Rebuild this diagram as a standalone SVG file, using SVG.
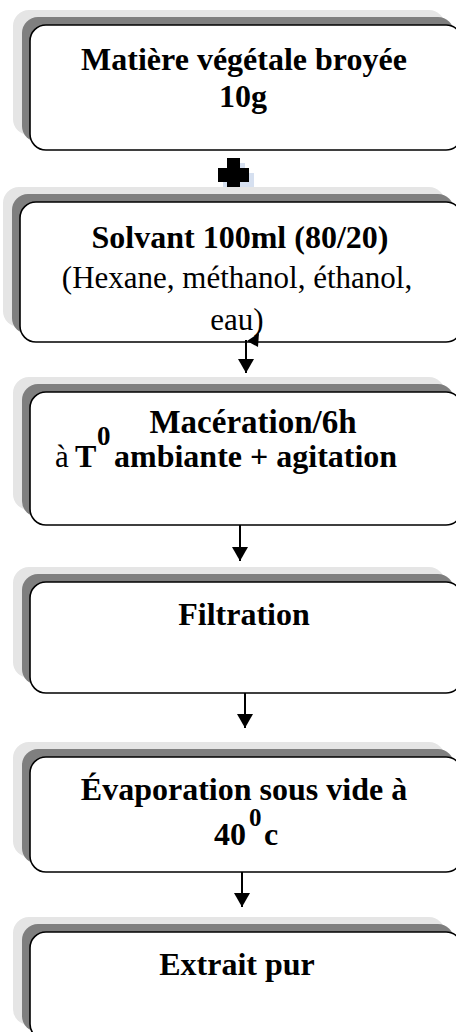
<svg xmlns="http://www.w3.org/2000/svg" width="456" height="1032" viewBox="0 0 456 1032">
<defs>
<style>
.l{fill:#e5e5e5}
.d{fill:#7f7f7f}
.w{fill:#fff;stroke:#000;stroke-width:1.6}
text{font-family:"Liberation Serif","Times New Roman",serif;fill:#000}
.b{font-weight:bold;font-size:32px}
.r{font-weight:normal;font-size:31px}
.c{text-anchor:middle}
.con{stroke:#000;stroke-width:2;fill:none}
</style>
<marker id="ah" markerUnits="userSpaceOnUse" viewBox="0 -8 14 16" refX="14" refY="0" markerWidth="14" markerHeight="16" orient="auto">
<path d="M0,-8 L14,0 L0,8 z" fill="#000"/>
</marker>
</defs>
<rect width="456" height="1032" fill="#fff"/>

<g id="node1">
<rect class="l" x="13" y="10" width="432" height="125" rx="16"/>
<rect class="d" x="22" y="17" width="432" height="125" rx="16"/>
<rect class="w" x="30" y="25" width="432" height="125" rx="16"/>
<text class="b c" x="244" y="70">Matière végétale broyée</text>
<text class="b c" x="243" y="107">10g</text>
</g>

<g id="plus">
<path d="M232,163h13v10h9v14h-9v11h-13v-11h-9v-14h9z" fill="#d6e0f0"/>
<path d="M227,158h13v10h9v14h-9v11h-13v-11h-9v-14h9z" fill="#000"/>
</g>

<g id="node2">
<rect class="l" x="3" y="187" width="442" height="140" rx="16"/>
<rect class="d" x="12" y="194" width="442" height="140" rx="16"/>
<rect class="w" x="20" y="202" width="442" height="140" rx="16"/>
<text class="b c" x="240" y="248">Solvant 100ml (80/20)</text>
<text class="r c" x="237" y="288">(Hexane, méthanol, éthanol,</text>
<text class="r c" x="237" y="330">eau)</text>
</g>

<g id="node3">
<rect class="l" x="13" y="377" width="432" height="133" rx="16"/>
<rect class="d" x="22" y="384" width="432" height="133" rx="16"/>
<rect class="w" x="30" y="392" width="432" height="133" rx="16"/>
<text class="b c" x="253" y="433" style="font-size:33px">Macération/6h</text>
<text class="r" x="55" y="467">à</text>
<text class="b" x="75" y="467">T</text>
<text class="b" x="97" y="445" style="font-size:27px">0</text>
<text class="b" x="114" y="467">ambiante + agitation</text>
</g>

<g id="node4">
<rect class="l" x="13" y="567" width="432" height="111" rx="16"/>
<rect class="d" x="22" y="574" width="432" height="111" rx="16"/>
<rect class="w" x="30" y="582" width="432" height="111" rx="16"/>
<text class="b c" x="244" y="625">Filtration</text>
</g>

<g id="node5">
<rect class="l" x="13" y="742" width="432" height="115" rx="16"/>
<rect class="d" x="22" y="749" width="432" height="115" rx="16"/>
<rect class="w" x="30" y="757" width="432" height="115" rx="16"/>
<text class="b c" x="244" y="800">Évaporation sous vide à</text>
<text class="b" x="214" y="845">40</text>
<text class="b" x="249" y="826" style="font-size:25px">0</text>
<text class="b" x="264" y="845">c</text>
</g>

<g id="node6">
<rect class="l" x="13" y="917" width="432" height="108" rx="16"/>
<rect class="d" x="22" y="924" width="432" height="108" rx="16"/>
<rect class="w" x="30" y="932" width="432" height="108" rx="16"/>
<text class="b c" x="237" y="975">Extrait pur</text>
</g>

<g id="connectors">
<polygon points="247,341 259,333 258,347" fill="#000"/>
<line class="con" x1="246" y1="340" x2="246" y2="373" marker-end="url(#ah)"/>
<line class="con" x1="240" y1="525" x2="240" y2="561" marker-end="url(#ah)"/>
<line class="con" x1="245" y1="693" x2="245" y2="728" marker-end="url(#ah)"/>
<line class="con" x1="242" y1="872" x2="242" y2="907" marker-end="url(#ah)"/>
</g>
</svg>
